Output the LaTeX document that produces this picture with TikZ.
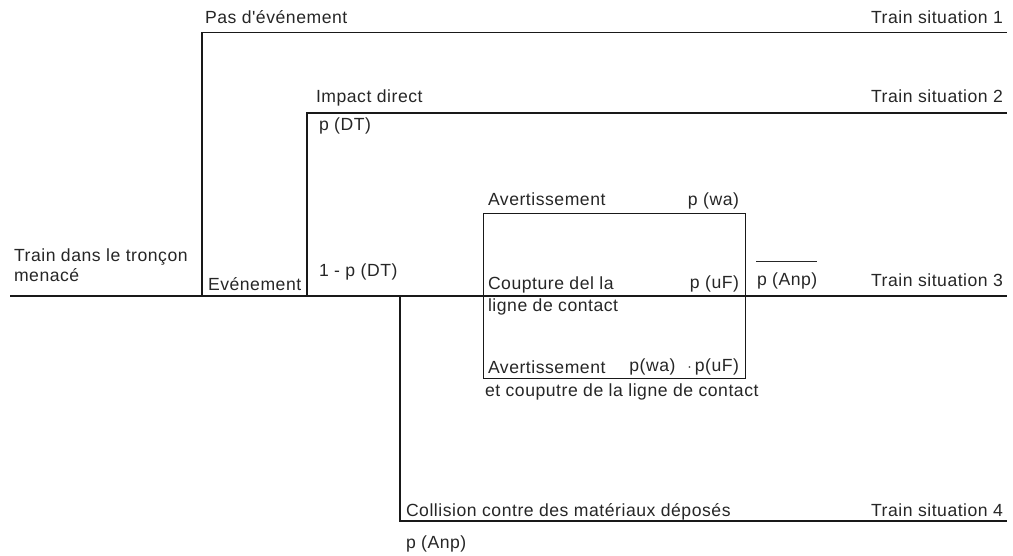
\documentclass[tikz,border=0pt]{standalone}
\usepackage{fontspec}
\setmainfont{Liberation Sans}[LetterSpace=3,Ligatures=TeXOff]
\usetikzlibrary{calc}
\begin{document}
\begin{tikzpicture}[x=0.75pt,y=-0.75pt,
  branch/.style={line width=1.1pt,draw=black!90},
  lbl/.style={inner sep=0pt,outer sep=0pt,text=black!85,font=\fontsize{13.2}{15}\selectfont},
  lw/.style={lbl,anchor=base west},
  le/.style={lbl,anchor=base east},
  overl/.style={line width=0.8pt,draw=black!85}]
\useasboundingbox (0,0) rectangle (1013,556);
% branch points
\coordinate (start) at (10,296);
\coordinate (end3) at (1007,296);
\coordinate (b1) at (202,296);
\coordinate (b1t) at (202,32.5);
\coordinate (end1) at (1007,32.5);
\coordinate (b2) at (307,296);
\coordinate (b2t) at (307,113);
\coordinate (end2) at (1007,113);
\coordinate (b3) at (400,296);
\coordinate (b3b) at (400,521);
\coordinate (end4) at (1007,521);
% lines
\draw[branch] (start) -- (end3);
\draw[branch] (b1) -- (b1t) -- (end1);
\draw[branch] (b2) -- (b2t) -- (end2);
\draw[branch] (b3) -- (b3b) -- (end4);
\node[draw=black!90,line width=1.1pt,minimum width=262*0.75pt,minimum height=165*0.75pt,inner sep=0pt,anchor=north west] (box) at (483,213) {};
% labels
\node[lw] (pas) at (205,24) {Pas d'événement};
\node[le] (ts1) at (1003,24) {Train situation 1};
\node[lw] (imp) at (316,103) {Impact direct};
\node[le] (ts2) at (1003,103) {Train situation 2};
\node[lw] (pdt) at (319,131) {p (DT)};
\node[lw] (train) at (14,261.5) {Train dans le tronçon};
\node[lw] (menace) at (14,281.5) {menacé};
\node[lw] (evt) at (208,290) {Evénement};
\node[lw] (npdt) at (319,276) {1 - p (DT)};
\node[lw] (av1) at (488,205) {Avertissement};
\node[le] (pwa) at (739,205) {p (wa)};
\node[lw] (coup1) at (488,289) {Coupture del la};
\node[lw] (coup2) at (488,311.5) {ligne de contact};
\node[le] (puf) at (739,288) {p (uF)};
\node[lw] (anpbar) at (757,285) {p (Anp)};
\draw[overl] ($(anpbar.north west)+(-1,-11)$) -- ($(anpbar.north east)+(0,-11)$);
\node[le] (ts3) at (1003,286) {Train situation 3};
\node[lw] (av2) at (488,373.5) {Avertissement};
\node[le] (pwauf) at (739,371.5) {p(wa)\hspace{9pt}$\cdot$\,p(uF)};
\node[lw] (av2b) at (485,396) {et couputre de la ligne de contact};
\node[lw] (coll) at (406,516) {Collision contre des matériaux déposés};
\node[le] (ts4) at (1003,516) {Train situation 4};
\node[lw] (panp) at (406,548) {p (Anp)};
\end{tikzpicture}
\end{document}
